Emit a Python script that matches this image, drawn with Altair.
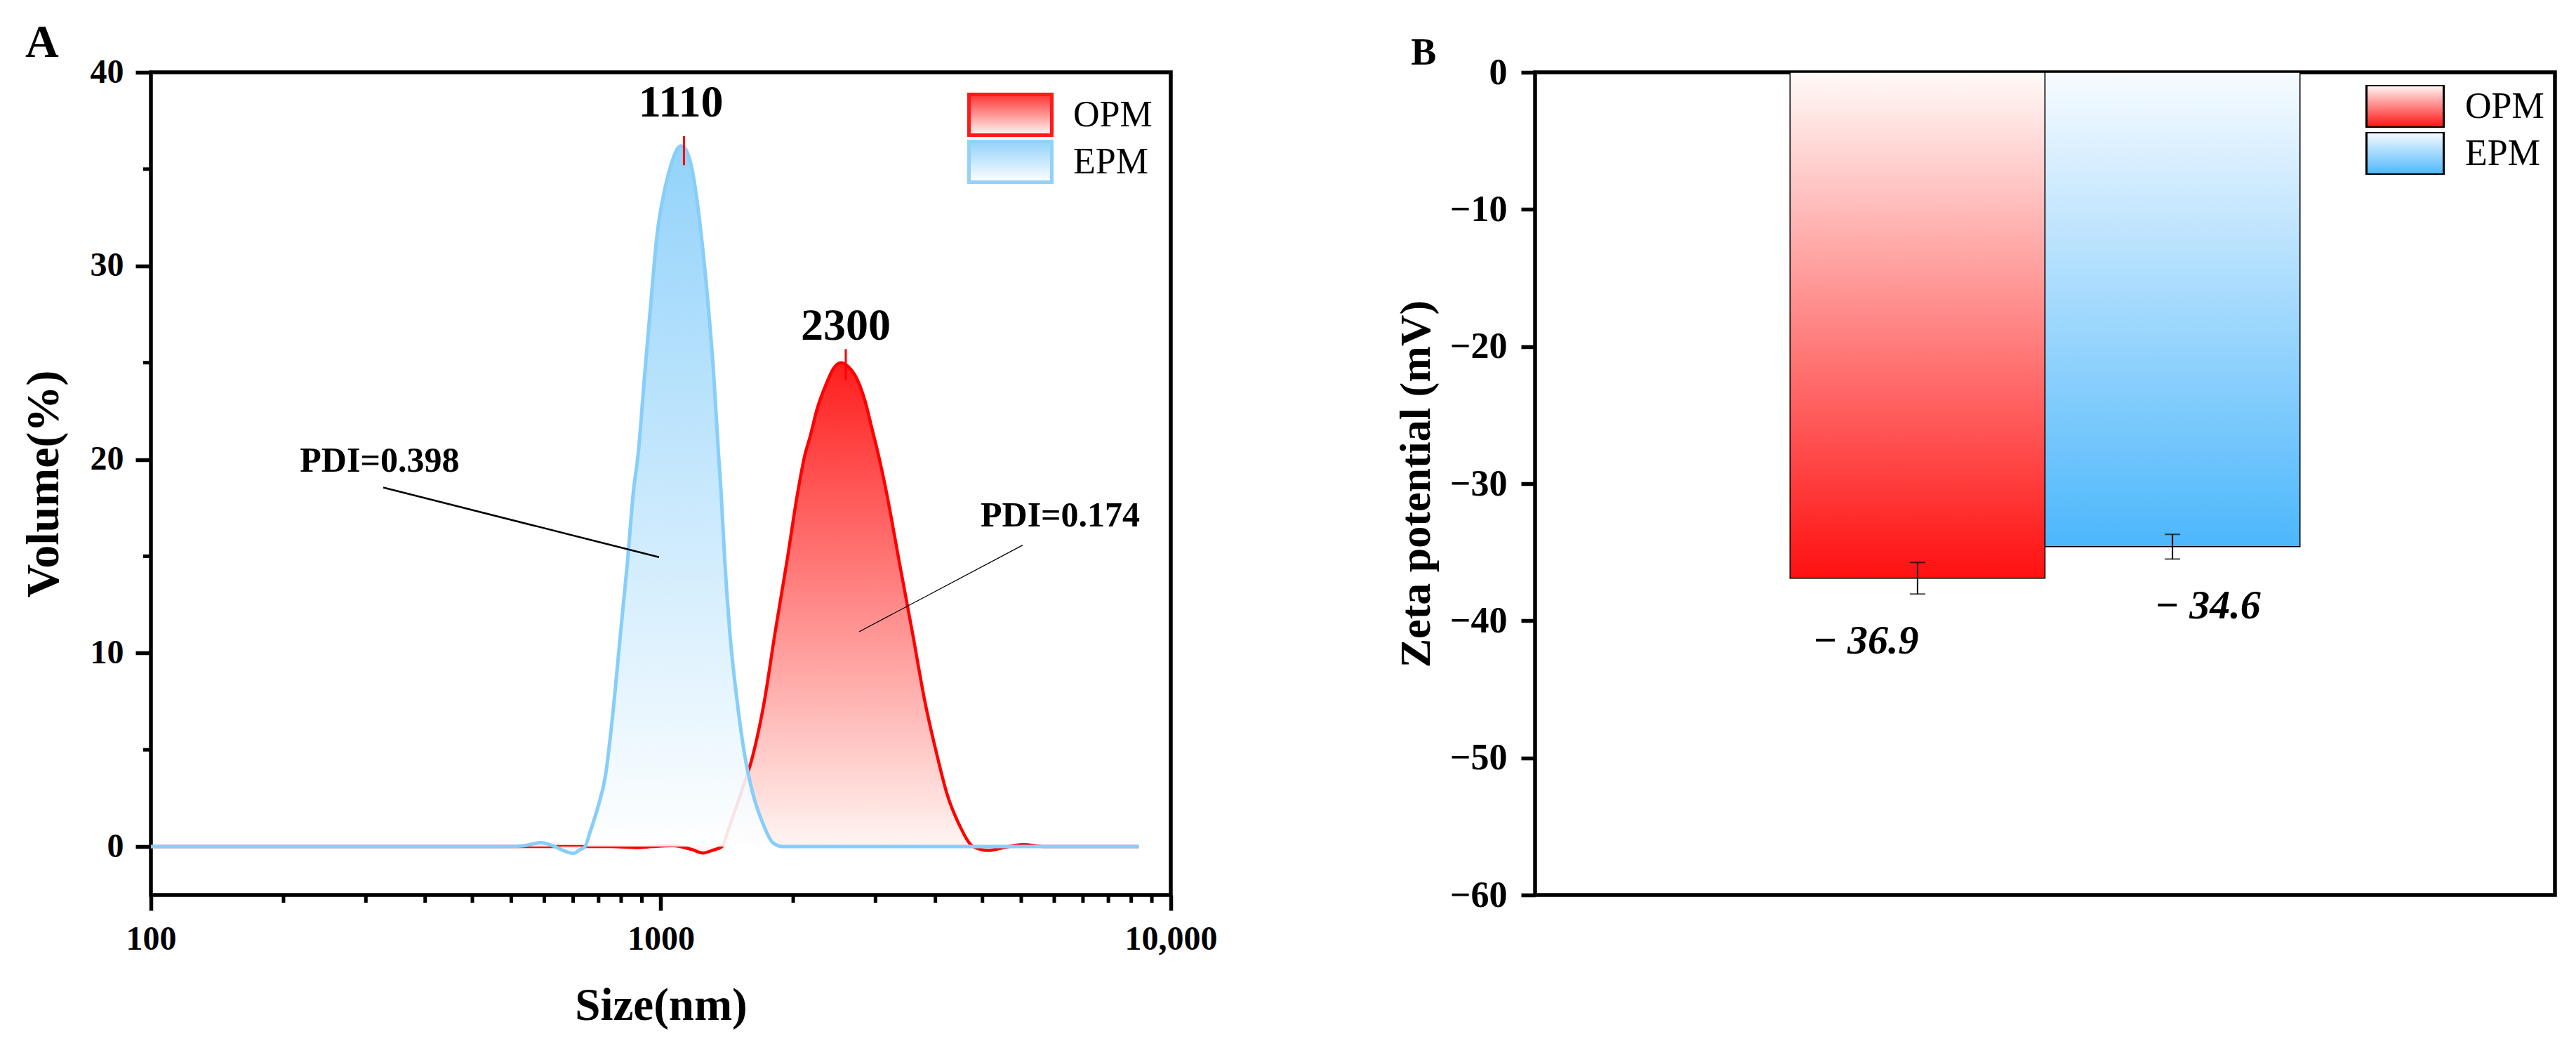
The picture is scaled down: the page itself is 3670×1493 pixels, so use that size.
import altair as alt
import pandas as pd

FONT = "Liberation Serif"

# ---------------- Panel A data ----------------
series_names = ["OPM", "EPM"]

opm_size = [100, 800, 900, 960, 1055, 1150, 1209, 1260, 1318, 1365, 1437, 1513, 1593,
            1676, 1766, 1858, 1915, 1963, 2022, 2110, 2180, 2260, 2330, 2397, 2516,
            2594, 2673, 2765, 2935, 3112, 3300, 3485, 3633, 3852, 4098, 4386, 4700,
            5124, 5675, 8650]
opm_vol = [0, 0, -0.05, 0, 0.05, -0.15, -0.33, -0.2, 0, 1.1, 2.8, 4.65, 7.4,
           11.1, 14.7, 18.4, 20.2, 21.2, 22.55, 23.9, 24.7, 25.0, 24.8, 24.4, 23.0,
           21.6, 20.2, 18.4, 14.7, 11.1, 7.4, 4.65, 2.8, 1.1, 0, -0.2, -0.05,
           0.1, 0, 0]

epm_size = [100, 300, 500, 540, 582, 620, 650, 674, 695, 710, 727, 750, 779, 809,
            834, 860, 884, 902, 931, 956, 983, 1013, 1044, 1075, 1096, 1120, 1151,
            1200, 1237, 1268, 1298, 1312, 1335, 1365, 1413, 1462, 1513, 1591, 1658,
            1734, 2500, 5000, 8650]
epm_vol = [0, 0, 0, 0.05, 0.2, 0.0, -0.25, -0.35, -0.15, 0, 0.78, 1.9, 3.7, 7.4,
           11.1, 14.7, 18.4, 20.2, 24.6, 28.1, 31.6, 33.7, 35.1, 36.0, 36.2, 36.0, 35.0,
           31.6, 28.1, 24.6, 20.2, 18.4, 14.7, 11.1, 7.4, 4.65, 2.8, 1.1, 0.2,
           0, 0, 0, 0]

x_major = [100, 1000, 10000]
x_minor = [182, 264, 345, 427, 509, 591, 673, 755, 836, 918,
           1818, 2636, 3455, 4273, 5091, 5909, 6727, 7545, 8364, 9182]
y_major = [0, 10, 20, 30, 40]
y_minor = [5, 15, 25, 35]

peak_text = ["1110", "2300"]
peak_text_size = [1095, 2305]
peak_text_vol = [37.7, 26.2]
peak_tick_size = [1110, 2305]
peak_tick_top = [36.7, 25.7]
peak_tick_bot = [35.2, 24.1]

pdi_text = ["PDI=0.398", "PDI=0.174"]
pdi_text_size = [196, 4236]
pdi_text_vol = [19.35, 16.55]
pdi_from_size = [285.5, 5124]
pdi_from_vol = [18.55, 15.57]
pdi_to_size = [992, 2448]
pdi_to_vol = [14.95, 11.1]

# ---------------- Panel B data ----------------
groups = ["OPM", "EPM"]
zeta = [-36.9, -34.6]
zeta_err = [1.15, 0.9]
zeta_ticks = [-60, -50, -40, -30, -20, -10, 0]

W, H = 1453, 1172


def grad(c_top, c_bot):
    return ("{gradient: 'linear', x1: 0, y1: 0, x2: 0, y2: 1, stops: ["
            + f"{{offset: 0, color: '{c_top}'}}, {{offset: 1, color: '{c_bot}'}}"
            + "]}")


curve = pd.DataFrame({
    "size": opm_size + epm_size,
    "vol": opm_vol + epm_vol,
    "series": ["OPM"] * len(opm_size) + ["EPM"] * len(epm_size),
})

xA = alt.X("size:Q",
           scale=alt.Scale(type="log", domain=[100, 10000], nice=False),
           axis=alt.Axis(values=x_major, title="Size(nm)",
                         labelExpr="datum.value == 10000 ? '10,000' : format(datum.value, 'd')",
                         labelFontSize=48, labelPadding=17, titleFontSize=65,
                         titlePadding=39, labelFlush=False, labelOverlap=False))
yA = alt.Y("vol:Q",
           scale=alt.Scale(domain=[-2.5, 40], nice=False, zero=False),
           axis=alt.Axis(values=y_major, title="Volume(%)", labelFontSize=48,
                         labelPadding=17, titleFontSize=66, titlePadding=32))

path_A = "M-1,-0.49H1V0.49H-1Z"
legA = alt.Legend(orient="none", legendX=1163, legendY=29, title=None,
                  symbolType=path_A, symbolSize=118 * 118, clipHeight=63,
                  rowPadding=4, labelOffset=28, symbolStrokeWidth=5, padding=0,
                  labelFont=FONT, labelFontSize=52, labelColor="black",
                  labelFontWeight="normal")

fillA = alt.Fill("series:N",
                 scale=alt.Scale(domain=series_names,
                                 range=[alt.ExprRef(expr=grad("#ff1e1e", "#fff8f5")),
                                        alt.ExprRef(expr=grad("#87cefa", "#ffffff"))]),
                 legend=legA)
strokeA = alt.Stroke("series:N",
                     scale=alt.Scale(domain=series_names, range=["#ff0000", "#87cefa"]),
                     legend=legA)

baseA = alt.Chart(curve)
area_opm = baseA.transform_filter("datum.series == 'OPM'").mark_area(
    interpolate="monotone").encode(x=xA, y=yA, fill=fillA)
line_opm = baseA.transform_filter("datum.series == 'OPM'").mark_line(
    interpolate="monotone", strokeWidth=4.5).encode(x=xA, y=yA, stroke=strokeA)
area_epm = baseA.transform_filter("datum.series == 'EPM'").mark_area(
    interpolate="monotone", opacity=0.9).encode(x=xA, y=yA, fill=fillA)
line_epm = baseA.transform_filter("datum.series == 'EPM'").mark_line(
    interpolate="monotone", strokeWidth=5).encode(x=xA, y=yA, stroke=strokeA)

minor_x = alt.Chart(pd.DataFrame({"size": x_minor})).mark_rule(
    color="black", strokeWidth=5).encode(x=xA, y=alt.value(H), y2=alt.value(H + 11))
minor_y = alt.Chart(pd.DataFrame({"vol": y_minor})).mark_rule(
    color="black", strokeWidth=5).encode(y=yA, x=alt.value(0), x2=alt.value(-11))

peaks = pd.DataFrame({"size": peak_text_size, "vol": peak_text_vol, "label": peak_text})
peak_labels = alt.Chart(peaks).mark_text(
    font=FONT, fontWeight="bold", fontSize=64, align="center", baseline="alphabetic",
    color="black").encode(x=xA, y=yA, text="label:N")

pticks = pd.DataFrame({"size": peak_tick_size, "vol": peak_tick_top, "vol2": peak_tick_bot})
peak_ticks = alt.Chart(pticks).mark_rule(color="#ff0000", strokeWidth=3).encode(
    x=xA, y=yA, y2="vol2:Q")

pdi = pd.DataFrame({"size": pdi_text_size, "vol": pdi_text_vol, "label": pdi_text})
pdi_labels = alt.Chart(pdi).mark_text(
    font=FONT, fontWeight="bold", fontSize=50, align="left", baseline="alphabetic",
    color="black").encode(x=xA, y=yA, text="label:N")

lead = pd.DataFrame({"size": pdi_from_size, "vol": pdi_from_vol,
                     "size2": pdi_to_size, "vol2": pdi_to_vol, "label": pdi_text})
lead1 = alt.Chart(lead).transform_filter("datum.label == 'PDI=0.398'").mark_rule(
    color="black", strokeWidth=2.5).encode(x=xA, y=yA, x2="size2:Q", y2="vol2:Q")
lead2 = alt.Chart(lead).transform_filter("datum.label == 'PDI=0.174'").mark_rule(
    color="black", strokeWidth=1.3).encode(x=xA, y=yA, x2="size2:Q", y2="vol2:Q")

panelA = alt.layer(area_opm, line_opm, area_epm, line_epm, minor_x, minor_y,
                   peak_ticks, peak_labels, lead1, lead2, pdi_labels).properties(
    width=W, height=H,
    title=alt.TitleParams("A", anchor="start", frame="bounds", font=FONT,
                          fontWeight="bold", fontSize=66, color="black",
                          baseline="top", offset=-16, dx=7))

# ---------------- Panel B ----------------
bars = pd.DataFrame({"group": groups, "zeta": zeta, "err": zeta_err,
                     "label": [f"\u2212 {abs(v)}" for v in zeta]})

xB = alt.X("group:N", scale=alt.Scale(domain=groups, paddingInner=0, paddingOuter=1),
           axis=None)
yB = alt.Y("zeta:Q", scale=alt.Scale(domain=[-60, 0], nice=False),
           axis=alt.Axis(values=zeta_ticks, title="Zeta potential (mV)",
                         labelFontSize=52, labelPadding=20, tickSize=20,
                         titleFontSize=62, titlePadding=16))
yB_lo = alt.Y("lo:Q", scale=alt.Scale(domain=[-60, 0], nice=False))

path_B = "M-1,-0.545H1V0.545H-1Z"
legB = alt.Legend(orient="none", legendX=1183, legendY=18, title=None,
                  symbolType=path_B, symbolSize=110 * 110, clipHeight=61,
                  rowPadding=6, labelOffset=29, symbolStrokeWidth=3,
                  symbolStrokeColor="black", padding=0,
                  labelFont=FONT, labelFontSize=52, labelColor="black",
                  labelFontWeight="normal")
fillB = alt.Fill("group:N",
                 scale=alt.Scale(domain=groups,
                                 range=[alt.ExprRef(expr=grad("#fffaf8", "#ff1010")),
                                        alt.ExprRef(expr=grad("#f8fbff", "#4cb7fc"))]),
                 legend=legB)

baseB = alt.Chart(bars).transform_calculate(lo="datum.zeta - datum.err",
                                            hi="datum.zeta + datum.err")
bar = baseB.mark_bar(stroke="black", strokeWidth=1.5).encode(x=xB, y=yB, fill=fillB)
err_rule = baseB.mark_rule(color="black", strokeWidth=2).encode(
    x=xB, y=yB_lo, y2="hi:Q")
cap_lo = baseB.mark_tick(color="black", thickness=2, size=22, orient="horizontal").encode(
    x=xB, y=yB_lo)
cap_hi = baseB.mark_tick(color="black", thickness=2, size=22, orient="horizontal").encode(
    x=xB, y=alt.Y("hi:Q", scale=alt.Scale(domain=[-60, 0], nice=False)))
lab_opm = baseB.transform_filter("datum.group == 'OPM'").mark_text(
    font=FONT, fontWeight="bold", fontStyle="italic", fontSize=58, align="center",
    baseline="alphabetic", dy=85, dx=-74, color="black").encode(x=xB, y=yB_lo, text="label:N")
lab_epm = baseB.transform_filter("datum.group == 'EPM'").mark_text(
    font=FONT, fontWeight="bold", fontStyle="italic", fontSize=58, align="center",
    baseline="alphabetic", dy=85, dx=50, color="black").encode(x=xB, y=yB_lo, text="label:N")

panelB = alt.layer(bar, err_rule, cap_lo, cap_hi, lab_opm, lab_epm).properties(
    width=W, height=H,
    title=alt.TitleParams("B", anchor="start", frame="bounds", font=FONT,
                          fontWeight="bold", fontSize=54, color="black",
                          baseline="top", offset=-26, dx=24))

chart = alt.hconcat(panelA, panelB, spacing=246).resolve_scale(
    fill="independent", stroke="independent").resolve_legend(
    fill="independent", stroke="independent").properties(
    padding={"left": 18, "top": 17, "right": 5, "bottom": 5},
    background="white"
).configure_view(stroke="black", strokeWidth=5.5).configure_axis(
    labelFont=FONT, labelFontWeight="bold", labelColor="black",
    titleFont=FONT, titleFontWeight="bold", titleColor="black",
    tickColor="black", tickWidth=5.5, tickSize=22, domain=False, grid=False
)

chart.save("out.html", embed_options={"renderer": "svg", "actions": False})
